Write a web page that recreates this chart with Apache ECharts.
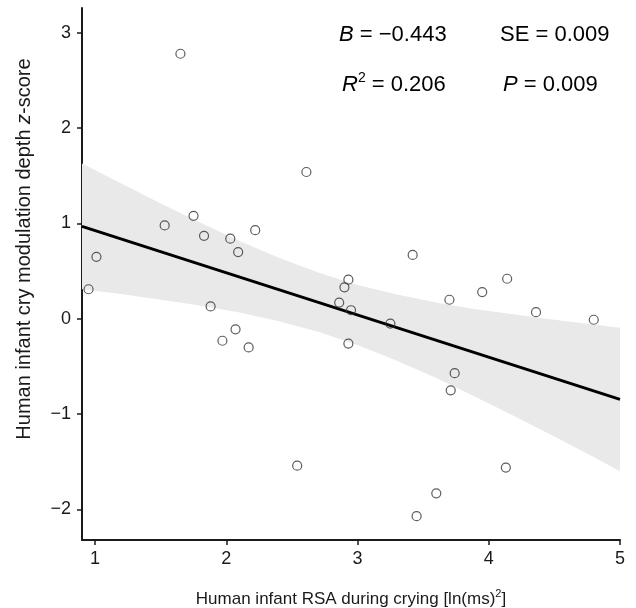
<!DOCTYPE html>
<html>
<head>
<meta charset="utf-8">
<script src="https://cdn.jsdelivr.net/npm/echarts@6/dist/echarts.min.js"></script>
<style>html,body{margin:0;padding:0;background:#fff}#c{width:636px;height:608px}</style>
</head>
<body>
<div id="c"></div>
<script>
// Observed data points
var rsaX = [0.95,1.01,1.65,1.53,1.75,1.83,2.03,2.09,2.22,2.61,1.88,1.97,2.07,2.17,2.54,
            3.42,2.93,2.90,4.14,3.95,3.70,2.86,2.95,3.25,2.93,4.36,4.80,3.74,3.71,4.13,3.60,3.45];
var cryZ = [0.31,0.65,2.78,0.98,1.08,0.87,0.84,0.70,0.93,1.54,0.13,-0.23,-0.11,-0.30,-1.54,
            0.67,0.41,0.33,0.42,0.28,0.20,0.17,0.09,-0.05,-0.26,0.07,-0.01,-0.57,-0.75,-1.56,-1.83,-2.07];
// Regression line endpoints
var fitX = [0.9, 5.0];
var fitY = [0.97, -0.845];
// Confidence band
var bandX = [0.9,1.2,1.5,1.8,2.1,2.4,2.7,3.0,3.3,3.6,3.9,4.2,4.5,4.8,5.0];
var bandUpper = [1.63,1.42,1.21,1.01,0.815,0.64,0.485,0.355,0.255,0.17,0.10,0.045,-0.01,-0.06,-0.095];
var bandLower = [0.31,0.26,0.20,0.14,0.065,-0.025,-0.135,-0.275,-0.44,-0.62,-0.82,-1.025,-1.235,-1.45,-1.60];
// Axis ticks
var xTicks = [1,2,3,4,5];
var yTicks = [-2,-1,0,1,2,3];

var chart = echarts.init(document.getElementById('c'));
var FONT = '"Liberation Sans", Arial, sans-serif';
var INK = '#1a1a1a';
function fmt(v){ return v < 0 ? '\u2212' + Math.abs(v) : String(v); }

var statRich = {
  i: {fontStyle: 'italic', fontSize: 22, fontFamily: FONT, color: INK, lineHeight: 28},
  n: {fontSize: 22, fontFamily: FONT, color: INK, lineHeight: 28},
  sup: {fontSize: 14, fontFamily: FONT, color: INK, lineHeight: 9, verticalAlign: 'top'}
};

var option = {
  animation: false,
  backgroundColor: '#fff',
  grid: {left: 82, right: 16, top: 8, bottom: 68, containLabel: false, outerBoundsMode: 'none'},
  xAxis: {
    type: 'value', min: 0.9, max: 5,
    splitLine: {show: false},
    axisLine: {onZero: false, lineStyle: {color: INK, width: 2}},
    axisTick: {customValues: xTicks, length: 5, lineStyle: {color: INK, width: 1.5}},
    axisLabel: {customValues: xTicks, formatter: fmt, fontSize: 18, color: INK, fontFamily: FONT, margin: 10},
    name: '{n|Human infant RSA during crying [ln(ms)}{sup|2}{n|]}',
    nameLocation: 'middle', nameGap: 48,
    nameTextStyle: {fontSize: 17, color: INK, fontFamily: FONT,
      rich: {
        n: {fontSize: 17, fontFamily: FONT, color: INK, lineHeight: 22},
        sup: {fontSize: 11, fontFamily: FONT, color: INK, lineHeight: 7, verticalAlign: 'top'}
      }}
  },
  yAxis: {
    type: 'value', min: -2.32, max: 3.26,
    splitLine: {show: false},
    axisLine: {onZero: false, lineStyle: {color: INK, width: 2}},
    axisTick: {customValues: yTicks, length: 5, lineStyle: {color: INK, width: 1.5}},
    axisLabel: {customValues: yTicks, formatter: fmt, fontSize: 18, color: INK, fontFamily: FONT, margin: 11}
  },
  series: [
    {
      type: 'custom',
      data: [[0]],
      silent: true,
      z: 1,
      renderItem: function (params, api) {
        var pts = [];
        for (var i = 0; i < bandX.length; i++) pts.push(api.coord([bandX[i], bandUpper[i]]));
        for (var j = bandX.length - 1; j >= 0; j--) pts.push(api.coord([bandX[j], bandLower[j]]));
        return {type: 'polygon', shape: {points: pts, smooth: 0}, style: {fill: '#e9e9e9', stroke: null}};
      }
    },
    {
      type: 'line',
      data: fitX.map(function (x, i) { return [x, fitY[i]]; }),
      symbol: 'none',
      lineStyle: {color: '#000', width: 3},
      z: 3
    },
    {
      type: 'scatter',
      data: rsaX.map(function (x, i) { return [x, cryZ[i]]; }),
      symbol: 'circle', symbolSize: 9,
      itemStyle: {color: 'rgba(255,255,255,0)', borderColor: '#333', borderWidth: 1.2},
      z: 4
    }
  ],
  graphic: [
    {type: 'text', x: 24, y: 249, rotation: Math.PI / 2, z: 10,
      style: {text: 'Human infant cry modulation depth {i|z}-score', fontSize: 20, fontFamily: FONT, fill: INK,
        align: 'center', verticalAlign: 'middle',
        rich: {i: {fontStyle: 'italic', fontSize: 20, fontFamily: FONT, color: INK}}}},
    {type: 'text', x: 339, y: 35, z: 10, style: {text: '{i|B}{n| = \u22120.443}', verticalAlign: 'middle', rich: statRich}},
    {type: 'text', x: 500, y: 35, z: 10, style: {text: '{n|SE = 0.009}', verticalAlign: 'middle', rich: statRich}},
    {type: 'text', x: 342, y: 85, z: 10, style: {text: '{i|R}{sup|2}{n| = 0.206}', verticalAlign: 'middle', rich: statRich}},
    {type: 'text', x: 503, y: 85, z: 10, style: {text: '{i|P}{n| = 0.009}', verticalAlign: 'middle', rich: statRich}}
  ]
};
chart.setOption(option);
</script>
</body>
</html>
